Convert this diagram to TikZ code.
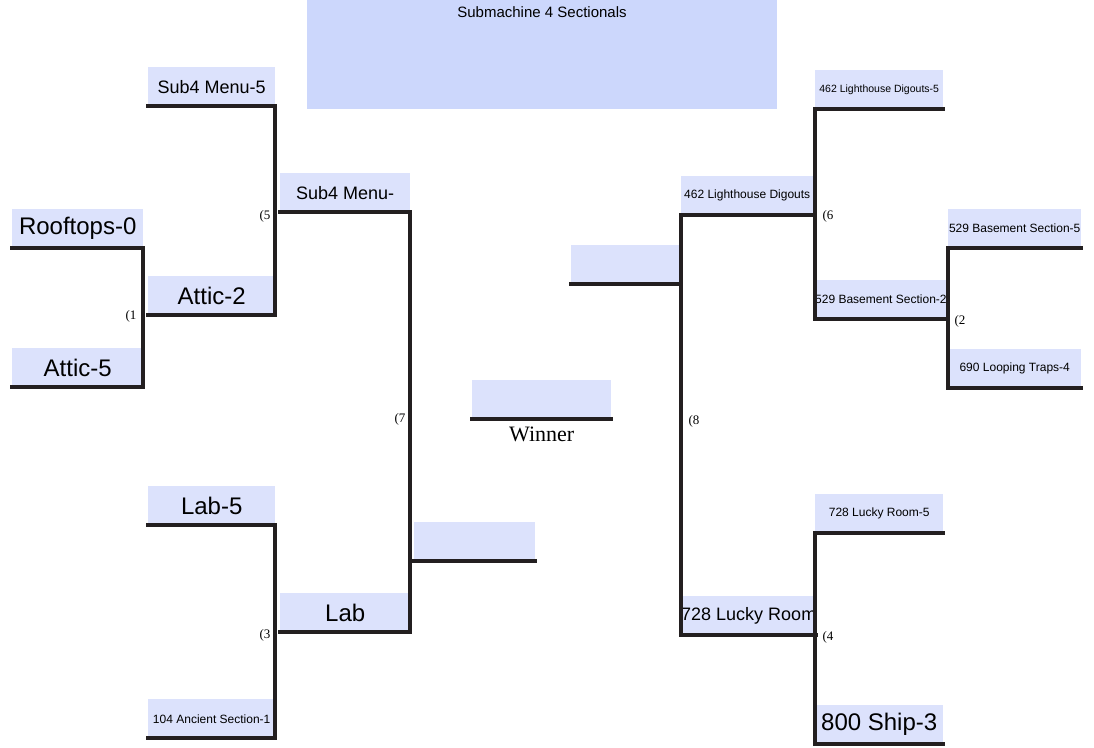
\documentclass[tikz,border=0pt]{standalone}
\usepackage{fontspec}
\setmainfont{Liberation Sans}
\newfontfamily\seriffont{Liberation Serif}
\usetikzlibrary{positioning}
\definecolor{slotblue}{HTML}{DCE2FC}
\definecolor{titleblue}{HTML}{CCD7FC}
\definecolor{barcol}{HTML}{231F20}
\tikzset{
  slot/.style={fill=slotblue,inner sep=0pt,anchor=north west,minimum height=39pt},
  big/.style={font=\fontsize{24}{26}\selectfont},
  mid/.style={font=\fontsize{18}{20}\selectfont},
  small/.style={font=\fontsize{12}{14}\selectfont},
  tiny/.style={font=\fontsize{10.5}{12}\selectfont},
  bar/.style={draw=barcol,line width=4pt,line cap=rect},
  seed/.style={font=\seriffont\fontsize{13}{15}\selectfont,inner sep=0pt}
}
\begin{document}
\begin{tikzpicture}[x=1pt,y=-1pt]
  \useasboundingbox (0,0) rectangle (1094,747);
  \node[fill=titleblue,inner sep=0pt,anchor=north west,minimum width=470pt,minimum height=109pt] (title) at (307,0) {};
  \node[font=\fontsize{15}{17}\selectfont] at (542,12) {Submachine 4 Sectionals};

  % left half
  \node[slot,mid,minimum width=127pt] (sub5) at (148,67) {Sub4 Menu-5};
  \node[slot,big,minimum width=131pt] (roof) at (12,209) {Rooftops-0};
  \node[slot,big,minimum width=131pt] (attic5) at (12,348) {Attic-5};
  \node[slot,big,minimum width=127pt] (attic2) at (148,276) {Attic-2};
  \node[slot,mid,minimum width=130pt] (sub) at (280,173) {Sub4 Menu-};
  \node[slot,big,minimum width=127pt] (lab5) at (148,486) {Lab-5};
  \node[slot,small,minimum width=127pt] (anc) at (148,699) {104 Ancient Section-1};
  \node[slot,big,minimum width=130pt] (lab) at (280,593) {Lab};
  \node[slot,minimum width=121pt] (finl) at (414,522) {};

  % right half
  \node[slot,tiny,minimum width=128pt] (light5) at (815,70) {462 Lighthouse Digouts-5};
  \node[slot,small,minimum width=132pt] (light) at (681,176) {462 Lighthouse Digouts};
  \node[slot,small,minimum width=133pt] (base5) at (948,209) {529 Basement Section-5};
  \node[slot,small,minimum width=128pt] (base2) at (815,280) {529 Basement Section-2};
  \node[slot,small,minimum width=133pt] (loop) at (948,349) {690 Looping Traps-4};
  \node[slot,minimum width=108pt] (finr) at (571,245) {};
  \node[slot,small,minimum width=128pt] (lucky5) at (815,494) {728 Lucky Room-5};
  \node[slot,mid,minimum width=132pt] (lucky) at (681,596) {728 Lucky Room};
  \node[slot,big,minimum width=128pt] (ship) at (815,705) {800 Ship-3};

  % winner
  \node[slot,minimum width=139pt] (win) at (472,380) {};
  \node[font=\seriffont\fontsize{22}{24}\selectfont,below=4pt of win] (winlbl) {Winner};
  \draw[bar] (win.south west) -- (win.south east);

  % brackets, left
  \draw[bar] (roof.south west) -- (roof.south east) -- (attic5.south east) -- (attic5.south west);
  \draw[bar] (sub5.south west) -- (sub5.south east) -- (attic2.south east) -- (attic2.south west);
  \draw[bar] (lab5.south west) -- (lab5.south east) -- (anc.south east) -- (anc.south west);
  \draw[bar] (sub.south west) -- (sub.south east) -- (lab.south east) -- (lab.south west);
  \draw[bar] (finl.south west) -- (finl.south east);
  % brackets, right
  \draw[bar] (base5.south east) -- (base5.south west) -- (loop.south west) -- (loop.south east);
  \draw[bar] (light5.south east) -- (light5.south west) -- (base2.south west) -- (base2.south east);
  \draw[bar] (lucky5.south east) -- (lucky5.south west) -- (ship.south west) -- (ship.south east);
  \draw[bar] (light.south east) -- (light.south west) -- (lucky.south west) -- (lucky.south east);
  \draw[bar] (finr.south west) -- (finr.south east);

  % seeds
  \node[seed] (s1) at (131,316) {(1};
  \node[seed] (s5) at (265,216) {(5};
  \node[seed] (s7) at (400,419) {(7};
  \node[seed] (s3) at (265,635) {(3};
  \node[seed] (s8) at (694,421) {(8};
  \node[seed] (s6) at (828,216) {(6};
  \node[seed] (s2) at (960,321) {(2};
  \node[seed] (s4) at (828,637) {(4};
\end{tikzpicture}
\end{document}
